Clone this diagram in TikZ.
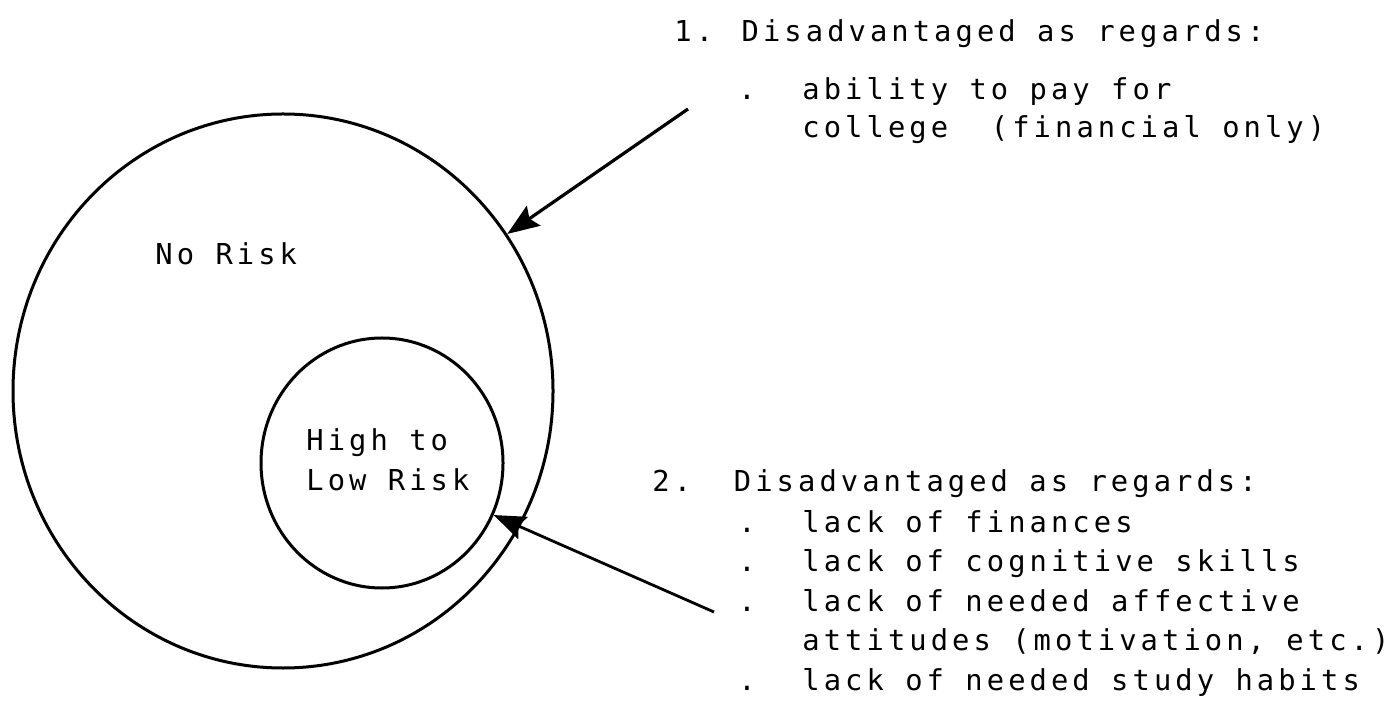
\documentclass[tikz,border=0pt]{standalone}
\usepackage{fontspec}
\usepackage{tikz}
\usetikzlibrary{arrows.meta,shapes.geometric}
\newfontfamily\typer{DejaVu Sans Mono}[LetterSpace=14.1]

\begin{document}
\begin{tikzpicture}[x=0.5pt,y=-0.5pt,
        ring/.style={draw,ellipse,line width=1.5pt,inner sep=0pt},
        lbl/.style={anchor=base west,inner sep=0pt,font=\typer\fontsize{14.4}{19}\selectfont},
        pointer/.style={-{Stealth[length=16pt,width=12pt,inset=2.5pt]},line width=1.6pt}]
        \useasboundingbox (0,0) rectangle (1400,704);
        % risk circles
        \node[ring,minimum width=270pt,minimum height=277pt] (outer) at (283,391) {};
        \node[ring,minimum width=121pt,minimum height=125pt] (inner) at (382,463) {};
        \node[lbl] (norisk) at (155,265) {No Risk};
        \node[lbl] (highrisk) at (306,451) {High to};
        \node[lbl] (lowrisk) at (306,491) {Low Risk};
        % group 1
        \node[lbl] (headone) at (674,42) {1. Disadvantaged as regards:};
        \node[lbl] (dotone) at (738,100) {.};
        \node[lbl] (payone) at (802,100) {ability to pay for};
        \node[lbl] (payonb) at (802,138) {college~~(financial only)};
        % group 2
        \node[lbl] (headtwo) at (652,492) {2.~~Disadvantaged as regards:};
        \foreach \yy/\lab in {532/finances, 571/cognitive skills, 611/needed affective, 690/needed study habits}{
            \node[lbl] at (738,\yy) {.};
            \node[lbl] at (802,\yy) {lack of \lab};
        }
        \node[lbl] (attitudes) at (802,650) {attitudes (motivation, etc.)};
        % pointers
        \coordinate (tailone) at (688,109);
        \coordinate (tailtwo) at (714,612);
        \draw[pointer] (tailone) -- (outer.35);
        \draw[pointer,line width=1.4pt] (tailtwo) -- (inner.-25);
    \end{tikzpicture}
\end{document}
